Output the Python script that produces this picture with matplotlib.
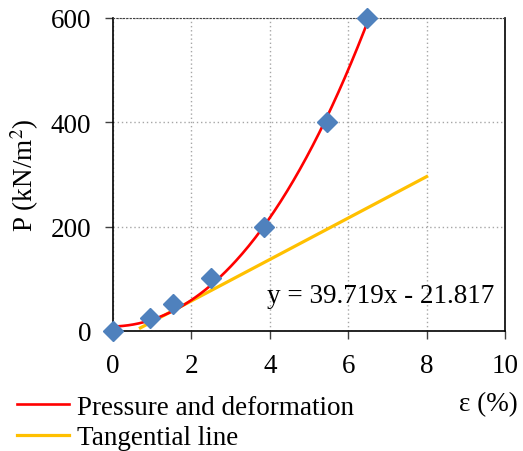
"""
Pressure vs deformation with tangential line
"""

import numpy as np
import matplotlib
matplotlib.use('Agg')
import matplotlib.pyplot as plt

plt.rcParams['font.family'] = ['Liberation Serif', 'DejaVu Serif']
plt.rcParams['mathtext.fontset'] = 'stix'

# measured points (strain %, pressure kN/m2)
strain = [0.0, 0.94, 1.52, 2.5, 3.84, 5.45, 6.49]
pressure = [0, 25, 52, 101, 199, 400, 600]

# points read along the red trendline
curve_x = [0.0, 0.65, 1.07, 1.5, 2.0, 2.6, 3.2, 3.84, 4.52, 5.43, 5.96, 6.5]
curve_y = [10, 13, 23, 38, 58, 93, 141, 200, 285, 400, 489, 598]

# tangent line y = 39.719x - 21.817, drawn between these x values
slope = 39.719
intercept = -21.817
tangent_x = [0.7, 8.0]

x_ticks = [0, 2, 4, 6, 8, 10]
y_ticks = [0, 200, 400, 600]

FS = 19.5

fig = plt.figure(figsize=(5.23, 4.52), dpi=100)
ax = fig.add_axes([0.216, 0.2655, 0.7496, 0.6925])

# smooth the trendline (polynomial, like the spreadsheet trendline)
coef = np.polyfit(curve_x, curve_y, 3)
xs = np.linspace(curve_x[0], curve_x[-1], 200)
ax.plot(xs, np.polyval(coef, xs), color='#FF0000', linewidth=1.9,
        label='Pressure and deformation', zorder=3)

tx = np.array(tangent_x)
ax.plot(tx, slope * tx + intercept, color='#FFC000', linewidth=2.3,
        label='Tangential line', zorder=2)

ax.plot(strain, pressure, linestyle='none', marker='D', markersize=10.5,
        color='#4F81BD', zorder=4, clip_on=False)

ax.set_xlim(0, 10)
ax.set_ylim(0, 600)
ax.set_xticks(x_ticks)
ax.set_yticks(y_ticks)
ax.tick_params(labelsize=FS, direction='out', length=5.5, width=1, color='#404040')
ax.tick_params(axis='x', pad=10)
ax.tick_params(axis='y', pad=10)
ax.grid(True, linestyle=(0, (1, 2)), color='#A6A6A6', linewidth=1)
ax.set_axisbelow(True)

ax.spines['top'].set_linestyle((0, (1, 2)))
ax.spines['top'].set_color('#404040')
for s in ['left', 'bottom', 'right']:
    ax.spines[s].set_color('black')
    ax.spines[s].set_linewidth(1.2)

ax.set_ylabel('P (kN/m$^2$)', fontsize=FS, labelpad=7)
fig.text(0.99, 0.104, 'ε (%)', fontsize=FS, ha='right', va='center')

ax.text(0.682, 0.112, f'y = {slope}x - {abs(intercept)}', transform=ax.transAxes,
        fontsize=FS, ha='center', va='center')

fig.legend(loc='lower left', bbox_to_anchor=(0.012, -0.022), frameon=False,
           fontsize=FS, handlelength=1.9, handletextpad=0.3, labelspacing=0.2,
           borderaxespad=0.0)

fig.savefig('out.png', dpi=100)
